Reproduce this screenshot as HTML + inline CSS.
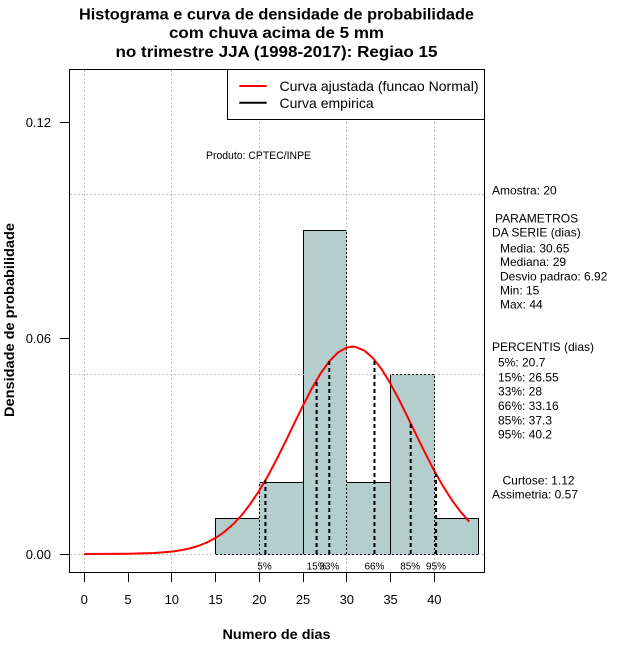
<!DOCTYPE html>
<html>
<head>
<meta charset="utf-8">
<style>
  html, body { margin: 0; padding: 0; background: #ffffff; }
  svg { display: block; }
  text { font-family: "Liberation Sans", Arial, Helvetica, sans-serif; fill: #000; }
</style>
</head>
<body>
<svg width="640" height="660" viewBox="0 0 640 660" xmlns="http://www.w3.org/2000/svg">
  <rect x="0" y="0" width="640" height="660" fill="#ffffff"/>

  <!-- Title -->
  <text x="276.5" y="19.5" font-size="16" font-weight="bold" text-anchor="middle" textLength="395" lengthAdjust="spacingAndGlyphs">Histograma e curva de densidade de probabilidade</text>
  <text x="276.5" y="38" font-size="16" font-weight="bold" text-anchor="middle" textLength="215" lengthAdjust="spacingAndGlyphs">com chuva acima de 5 mm</text>
  <text x="276.5" y="57" font-size="16" font-weight="bold" text-anchor="middle" textLength="322" lengthAdjust="spacingAndGlyphs">no trimestre JJA (1998-2017): Regiao 15</text>

  <!-- Histogram bars -->
  <g fill="#B4CDCD" stroke="#000" stroke-width="1">
    <rect x="215.5" y="518.5" width="44" height="36"/>
    <rect x="259.5" y="482.5" width="44" height="72"/>
    <rect x="303.5" y="230.5" width="43" height="324"/>
    <rect x="346.5" y="482.5" width="44" height="72"/>
    <rect x="390.5" y="374.5" width="44" height="180"/>
    <rect x="434.5" y="518.5" width="44" height="36"/>
  </g>

  <!-- Grid (dotted, drawn over bars) -->
  <g stroke="#BEBEBE" stroke-width="1" stroke-dasharray="2 2" fill="none">
    <line x1="84.5" y1="70" x2="84.5" y2="572"/>
    <line x1="171.5" y1="70" x2="171.5" y2="572"/>
    <line x1="259.5" y1="70" x2="259.5" y2="572"/>
    <line x1="346.5" y1="70" x2="346.5" y2="572"/>
    <line x1="434.5" y1="70" x2="434.5" y2="572"/>
    <line x1="70" y1="554.5" x2="484" y2="554.5"/>
    <line x1="70" y1="374.5" x2="484" y2="374.5"/>
    <line x1="70" y1="194.5" x2="484" y2="194.5"/>
  </g>

  <!-- Normal curve -->
  <polyline fill="none" stroke="#FF0000" stroke-width="2" stroke-linejoin="round"
    points="84.3,554 128.05,553.8 154.3,553 171.8,551.6 180.55,550.3 189.3,548.5 198.05,546 206.8,542.5 215.55,537.9 224.3,531.9 233.05,524.4 241.8,515 250.55,503.7 259.3,490.5 268.05,475.6 276.8,459 285.55,441.4 294.3,423.3 303.05,405.4 311.8,388.5 320.55,373.5 329.3,361.3 338.05,352.4 346.8,347.5 352.5,346.6 355.55,346.9 364.3,350.5 373.05,358.2 381.8,369.5 390.55,383.8 399.3,400.2 408.05,417.9 416.8,436 425.55,453.8 434.3,470.8 443.05,486.2 451.8,500 460.55,511.8 469.3,521.7"/>

  <!-- Percentile dashed lines -->
  <g stroke="#000" stroke-width="2" stroke-dasharray="4 3" fill="none">
    <line x1="265.4" y1="554" x2="265.4" y2="480.2"/>
    <line x1="316.6" y1="554" x2="316.6" y2="380"/>
    <line x1="329.3" y1="554" x2="329.3" y2="361.3"/>
    <line x1="374.45" y1="554" x2="374.45" y2="359.8"/>
    <line x1="410.7" y1="554" x2="410.7" y2="423.3"/>
    <line x1="436.05" y1="554" x2="436.05" y2="474"/>
  </g>

  <!-- Percentile labels -->
  <g font-size="10" text-anchor="middle">
    <text x="264.5" y="569.5">5%</text>
    <text x="316.6" y="569.5">15%</text>
    <text x="329.3" y="569.5">33%</text>
    <text x="374.45" y="569.5">66%</text>
    <text x="410.2" y="569.5">85%</text>
    <text x="436.05" y="569.5">95%</text>
  </g>

  <!-- Produto -->
  <text x="258.5" y="159" font-size="11" text-anchor="middle" textLength="105" lengthAdjust="spacingAndGlyphs">Produto: CPTEC/INPE</text>

  <!-- Legend -->
  <rect x="227.5" y="69.5" width="257" height="50" fill="#ffffff" stroke="#000" stroke-width="1"/>
  <line x1="239.3" y1="86" x2="266.7" y2="86" stroke="#FF0000" stroke-width="2"/>
  <line x1="239.3" y1="102.7" x2="266.7" y2="102.7" stroke="#000" stroke-width="2"/>
  <text x="279.5" y="91" font-size="14" textLength="199" lengthAdjust="spacingAndGlyphs">Curva ajustada (funcao Normal)</text>
  <text x="279.5" y="108" font-size="14">Curva empirica</text>

  <!-- Plot box -->
  <rect x="69.5" y="69.5" width="415" height="503" fill="none" stroke="#000" stroke-width="1"/>

  <!-- Y axis ticks & labels -->
  <g stroke="#000" stroke-width="1">
    <line x1="60" y1="122.5" x2="69" y2="122.5"/>
    <line x1="60" y1="338.5" x2="69" y2="338.5"/>
    <line x1="60" y1="554.5" x2="69" y2="554.5"/>
  </g>
  <g font-size="13" text-anchor="end">
    <text x="51" y="127.2">0.12</text>
    <text x="51" y="343">0.06</text>
    <text x="51" y="558.8">0.00</text>
  </g>

  <!-- X axis ticks & labels -->
  <g stroke="#000" stroke-width="1">
    <line x1="84.5" y1="573" x2="84.5" y2="582"/>
    <line x1="128.5" y1="573" x2="128.5" y2="582"/>
    <line x1="171.5" y1="573" x2="171.5" y2="582"/>
    <line x1="215.5" y1="573" x2="215.5" y2="582"/>
    <line x1="259.5" y1="573" x2="259.5" y2="582"/>
    <line x1="303.5" y1="573" x2="303.5" y2="582"/>
    <line x1="346.5" y1="573" x2="346.5" y2="582"/>
    <line x1="390.5" y1="573" x2="390.5" y2="582"/>
    <line x1="434.5" y1="573" x2="434.5" y2="582"/>
  </g>
  <g font-size="13" text-anchor="middle">
    <text x="84.3" y="604">0</text>
    <text x="128.05" y="604">5</text>
    <text x="171.8" y="604">10</text>
    <text x="215.55" y="604">15</text>
    <text x="259.3" y="604">20</text>
    <text x="303.05" y="604">25</text>
    <text x="346.8" y="604">30</text>
    <text x="390.55" y="604">35</text>
    <text x="434.3" y="604">40</text>
  </g>

  <!-- Axis titles -->
  <text x="276.5" y="639" font-size="14" font-weight="bold" text-anchor="middle" textLength="108" lengthAdjust="spacingAndGlyphs">Numero de dias</text>
  <text transform="translate(14,320) rotate(-90)" font-size="14" font-weight="bold" text-anchor="middle" textLength="194" lengthAdjust="spacingAndGlyphs">Densidade de probabilidade</text>

  <!-- Right-side statistics -->
  <g font-size="12">
    <text x="492" y="194.3">Amostra: 20</text>
    <text x="495" y="222.6">PARAMETROS</text>
    <text x="492" y="236.6">DA SERIE (dias)</text>
    <text x="500" y="252.3">Media: 30.65</text>
    <text x="500" y="266">Mediana: 29</text>
    <text x="500" y="280.3">Desvio padrao: 6.92</text>
    <text x="500" y="294.3">Min: 15</text>
    <text x="500" y="308.6">Max: 44</text>
    <text x="492" y="351">PERCENTIS (dias)</text>
    <text x="498" y="366.6">5%: 20.7</text>
    <text x="498" y="381.3">15%: 26.55</text>
    <text x="498" y="395.3">33%: 28</text>
    <text x="498" y="410">66%: 33.16</text>
    <text x="498" y="424.3">85%: 37.3</text>
    <text x="498" y="438.6">95%: 40.2</text>
    <text x="502.5" y="484.3">Curtose: 1.12</text>
    <text x="492" y="498.3">Assimetria: 0.57</text>
  </g>
</svg>
</body>
</html>
